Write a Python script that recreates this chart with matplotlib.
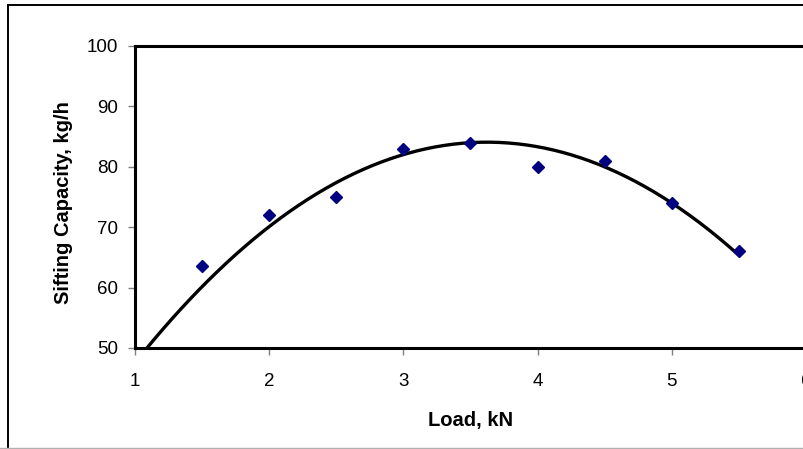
import numpy as np
import matplotlib.pyplot as plt
from matplotlib.lines import Line2D

plt.rcParams['font.family'] = ['Liberation Sans', 'DejaVu Sans']

# measured sifting capacity at each load
load = [1.5, 2.0, 2.5, 3.0, 3.5, 4.0, 4.5, 5.0, 5.5]
capacity = [63.6, 72, 75, 83, 84, 80, 81, 74, 66]

# 2nd order trend line coefficients (highest power first)
trend_coef = [-5.31, 38.47, 14.4]
trend_start, trend_end = 1.0, 5.5

xticks = [1, 2, 3, 4, 5, 6]
yticks = [50, 60, 70, 80, 90, 100]

W, H = 804, 449
fig = plt.figure(figsize=(W / 100, H / 100), dpi=100)

# chart area border
fig.add_artist(Line2D([8 / W, 8 / W], [1 - 5 / H, 1 - 447 / H], color='black', lw=1.4))
fig.add_artist(Line2D([8 / W, 1], [1 - 5 / H, 1 - 5 / H], color='black', lw=1.4))
fig.add_artist(Line2D([0, 1], [1 - 447.5 / H, 1 - 447.5 / H], color='#b0b0b0', lw=1))

ax = fig.add_axes([135 / W, 1 - 348 / H, (806 - 135) / W, (348 - 46) / H])

xs = np.linspace(trend_start, trend_end, 200)
ax.plot(xs, np.polyval(trend_coef, xs), color='black', lw=2.4, zorder=2)
ax.plot(load, capacity, 'D', color='#000080', markersize=6, zorder=3)

ax.set_xlim(1, 6)
ax.set_ylim(50, 100)
ax.set_xticks(xticks)
ax.set_yticks(yticks)
ax.tick_params(axis='both', direction='out', length=5, width=1, color='#808080',
               labelsize=13.5)
ax.tick_params(axis='x', pad=13)
ax.tick_params(axis='y', pad=7)
for sp in ax.spines.values():
    sp.set_linewidth(2.2)

ax.set_xlabel('Load, kN', fontsize=14.5, fontweight='bold', labelpad=15)
ax.set_ylabel('Sifting Capacity, kg/h', fontsize=14.5, fontweight='bold')
ax.yaxis.set_label_coords(-0.092, 0.48)

fig.savefig('out.png', dpi=100)
